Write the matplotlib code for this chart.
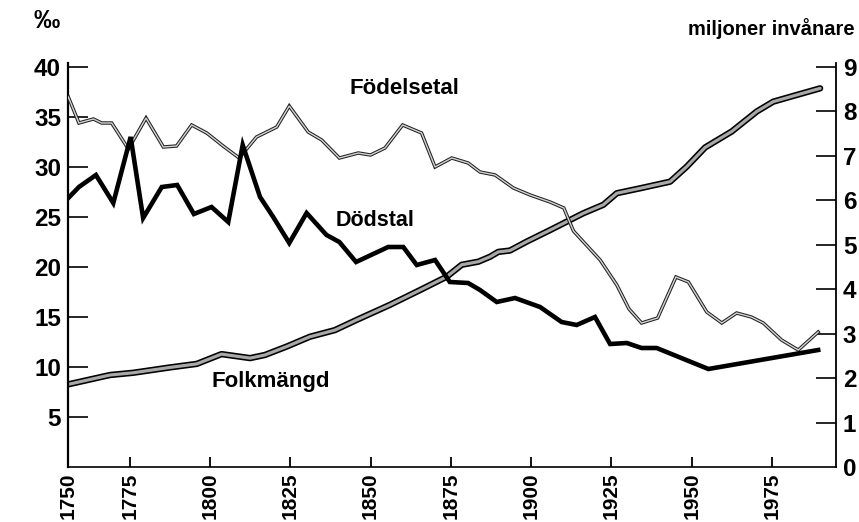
import matplotlib
matplotlib.use("Agg")
import matplotlib.pyplot as plt
import matplotlib.patheffects as pe

# ---- data ----
birth_years = [1755.9, 1759.2, 1763.7, 1766.3, 1769.4, 1774.6, 1780.1, 1785.5, 1789.6,
               1794.3, 1799.0, 1804.1, 1809.1, 1814.5, 1820.8, 1824.7, 1830.6, 1834.8,
               1840.3, 1846.2, 1850.0, 1854.5, 1860.0, 1865.9, 1870.1, 1875.3, 1880.4,
               1884.1, 1888.8, 1894.5, 1899.7, 1905.9, 1910.2, 1911.1, 1913.2, 1921.5,
               1926.7, 1930.5, 1934.4, 1939.4, 1945.1, 1949.0, 1954.7, 1959.4, 1964.0,
               1968.6, 1972.3, 1978.0, 1983.2, 1989.4]
birth_rate = [37.0, 34.4, 34.8, 34.4, 34.4, 31.8, 34.9, 32.0, 32.1,
              34.2, 33.4, 32.1, 30.9, 33.0, 34.0, 36.1, 33.5, 32.7,
              30.9, 31.4, 31.2, 31.9, 34.2, 33.4, 30.0, 30.9, 30.4,
              29.5, 29.2, 27.9, 27.2, 26.5, 25.9, 25.2, 23.6, 20.7,
              18.2, 15.8, 14.4, 14.9, 19.0, 18.5, 15.5, 14.4, 15.4,
              15.0, 14.4, 12.7, 11.7, 13.5]

death_years = [1755.9, 1759.2, 1764.5, 1769.9, 1775.3, 1779.2, 1785.0, 1789.8, 1795.0,
               1800.5, 1805.7, 1810.2, 1815.6, 1819.7, 1824.7, 1830.1, 1836.3, 1840.3,
               1845.5, 1855.5, 1860.2, 1864.4, 1870.1, 1874.7, 1880.4, 1884.1, 1889.3,
               1895.0, 1902.8, 1909.5, 1914.2, 1919.9, 1924.6, 1929.8, 1934.4, 1939.1,
               1955.2, 1989.4]
death_rate = [26.9, 28.0, 29.2, 26.4, 33.0, 24.9, 28.0, 28.2, 25.3,
              26.0, 24.5, 32.2, 27.0, 25.0, 22.4, 25.4, 23.2, 22.5,
              20.5, 22.0, 22.0, 20.2, 20.7, 18.5, 18.4, 17.7, 16.5,
              16.9, 16.0, 14.5, 14.2, 15.0, 12.3, 12.4, 11.9, 11.9,
              9.8, 11.7]

pop_years = [1755.9, 1768.9, 1776.1, 1787.5, 1795.9, 1803.6, 1812.5, 1817.1, 1823.9,
             1831.1, 1838.9, 1845.7, 1856.1, 1865.4, 1873.7, 1878.4, 1883.6, 1887.2,
             1889.8, 1893.4, 1898.6, 1905.9, 1916.3, 1922.5, 1926.7, 1933.9, 1943.3,
             1948.5, 1954.2, 1962.5, 1970.3, 1975.4, 1981.7, 1990.0]
population = [1.86, 2.07, 2.12, 2.24, 2.32, 2.54, 2.45, 2.52, 2.71,
              2.93, 3.08, 3.31, 3.65, 3.98, 4.28, 4.55, 4.62, 4.73,
              4.84, 4.87, 5.07, 5.33, 5.71, 5.90, 6.16, 6.27, 6.42,
              6.76, 7.19, 7.55, 8.00, 8.22, 8.35, 8.52]

x_tick_pos = [1755.8, 1775, 1800, 1825, 1850, 1875, 1900, 1925, 1950, 1975]
x_tick_labels = ["1750", "1775", "1800", "1825", "1850", "1875", "1900", "1925", "1950", "1975"]
left_ticks = [5, 10, 15, 20, 25, 30, 35, 40]
right_ticks = [0, 1, 2, 3, 4, 5, 6, 7, 8, 9]

FONT = ['Liberation Sans', 'DejaVu Sans']
plt.rcParams['font.family'] = FONT
plt.rcParams['font.weight'] = 'bold'

fig = plt.figure(figsize=(8.59, 5.22), dpi=100)
ax = fig.add_axes([68/859, 1-467/522, (836-68)/859, 404/522])
ax2 = ax.twinx()

XMIN, XMAX = 1755.8, 1994.95
YMAX = 40.4
ax.set_xlim(XMIN, XMAX)
ax.set_ylim(0, YMAX)
ax2.set_ylim(0, YMAX * 9 / 40)

# population (right axis), grey with black outline
ax2.plot(pop_years, population, color='#a8a8a8', lw=2.3, solid_capstyle='round',
         solid_joinstyle='round',
         path_effects=[pe.Stroke(linewidth=4.6, foreground='black'), pe.Normal()], zorder=3)
# birth rate, light grey with black outline
ax.plot(birth_years, birth_rate, color='#d4d4d4', lw=1.0, solid_joinstyle='miter',
        path_effects=[pe.Stroke(linewidth=2.5, foreground='#222222'), pe.Normal()], zorder=3)
# death rate, black
ax.plot(death_years, death_rate, color='black', lw=3.3, solid_joinstyle='miter', zorder=4)

ax.set_zorder(ax2.get_zorder() + 1)
ax.patch.set_visible(False)

for a in (ax, ax2):
    for s in a.spines.values():
        s.set_visible(False)
ax.spines['left'].set_visible(True)
ax.spines['left'].set_linewidth(1.6)
ax.spines['bottom'].set_visible(True)
ax.spines['bottom'].set_linewidth(1.2)
ax2.spines['right'].set_visible(True)
ax2.spines['right'].set_linewidth(1.3)

ax.set_yticks(left_ticks)
ax.set_yticklabels([str(v) for v in left_ticks])
ax.tick_params(axis='y', direction='in', length=14.4, width=1.2, pad=5, labelsize=17.5)
ax.set_xticks(x_tick_pos)
ax.set_xticklabels(x_tick_labels, rotation=90)
ax.tick_params(axis='x', direction='in', length=7, width=1.3, pad=4, labelsize=15)
ax.get_xticklines()[0].set_visible(False)
ax.get_xticklines()[1].set_visible(False)

ax2.set_yticks(right_ticks)
ax2.set_yticklabels([str(v) for v in right_ticks])
ax2.tick_params(axis='y', direction='in', length=14.4, width=1.2, pad=5, labelsize=17.5)
ax2.get_yticklines()[0].set_visible(False)
ax2.get_yticklines()[1].set_visible(False)

fig.text(33/859, 1-21/522, "‰", fontsize=19, fontweight='bold', ha='left', va='center')
fig.text(855/859, 1-29/522, "miljoner invånare", fontsize=14.5, fontweight='bold',
         ha='right', va='center')

ax.text(1843.5, 37.8, "Födelsetal", fontsize=16, fontweight='bold', ha='left', va='center')
ax.text(1839, 24.6, "Dödstal", fontsize=15.5, fontweight='bold', ha='left', va='center')
ax.text(1800.5, 8.5, "Folkmängd", fontsize=16, fontweight='bold', ha='left', va='center')

fig.savefig("out.png", dpi=100)
